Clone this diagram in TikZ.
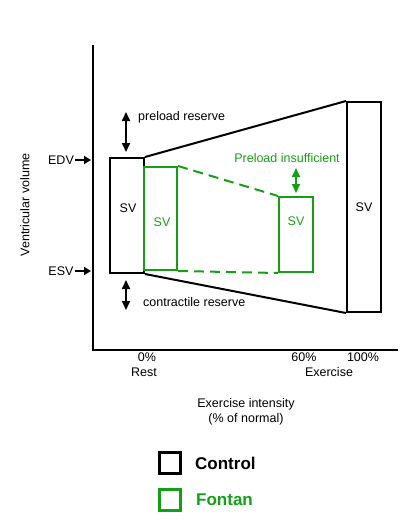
\documentclass[tikz,border=0pt]{standalone}
\usepackage{fontspec}
\setmainfont{Liberation Sans}
\usetikzlibrary{arrows.meta}
\definecolor{fontangreen}{RGB}{20,160,20}
\tikzset{
  lbl/.style={font=\fontsize{12.5}{15}\selectfont, inner sep=1pt},
  cbox/.style={draw=black, line width=2pt, inner sep=0pt},
  fbox/.style={draw=fontangreen, line width=2pt, inner sep=0pt},
  dbl/.style={{Triangle[length=9pt,width=8pt]}-{Triangle[length=9pt,width=8pt]}, line width=2pt},
}
\begin{document}
\begin{tikzpicture}[x=1pt, y=-1pt]
\useasboundingbox (0,0) rectangle (406,520);
% axes
\coordinate (ytop) at (93,45);
\coordinate (O) at (93,350);
\coordinate (xend) at (398,350);
\draw[line width=2pt] (ytop) -- (O) -- (xend);
\node[lbl, rotate=90] (vv) at (25,205) {Ventricular volume};
\node[lbl] (edv) at (61,160) {EDV};
\node[lbl] (esv) at (61,271) {ESV};
\draw[-{Triangle[length=7pt,width=8pt]}, line width=2pt] (edv.east) -- ([xshift=-2pt]edv.east -| O);
\draw[-{Triangle[length=7pt,width=8pt]}, line width=2pt] (esv.east) -- ([xshift=-2pt]esv.east -| O);
% control boxes
\node[cbox, minimum width=34pt, minimum height=115pt] (crest) at (127,215.5) {};
\node[cbox, minimum width=34pt, minimum height=210pt] (cex) at (364,207) {};
\draw[line width=2pt] (crest.north east) -- (cex.north west);
\draw[line width=2pt] (crest.south east) -- (cex.south west);
\node[lbl] at (128,208) {SV};
\node[lbl] at (364,207) {SV};
% fontan boxes
\node[fbox, minimum width=33pt, minimum height=103pt] (frest) at (160.5,218.5) {};
\node[fbox, minimum width=34pt, minimum height=75pt] (fsixty) at (296,234.5) {};
\draw[fontangreen, dash pattern=on 10pt off 6pt, line width=2pt] (frest.north east) -- (fsixty.north west);
\draw[fontangreen, dash pattern=on 10pt off 6pt, line width=2pt] (frest.south east) -- (fsixty.south west);
\node[lbl, text=fontangreen] at (162,222) {SV};
\node[lbl, text=fontangreen] at (296,221) {SV};
% reserves
\coordinate (pr1) at (126,112);
\coordinate (pr2) at (126,152);
\draw[dbl] (pr1) -- (pr2);
\node[lbl, anchor=west] (pres) at (137,117) {preload reserve};
\coordinate (cr1) at (126,280);
\coordinate (cr2) at (126,310);
\draw[dbl] (cr1) -- (cr2);
\node[lbl, anchor=west] (cres) at (142,302) {contractile reserve};
\node[lbl, text=fontangreen] (pins) at (287,158) {Preload insufficient};
\coordinate (pi1) at (296,168);
\coordinate (pi2) at (296,193);
\draw[dbl, fontangreen] (pi1) -- (pi2);
% x axis labels
\foreach \x/\t in {147/0\%, 304/60\%, 363/100\%} {
  \node[lbl] at (\x,357) {\t};
}
\node[lbl] (rest) at (144,372) {Rest};
\node[lbl] (exer) at (329,372) {Exercise};
\node[lbl, align=center] (xlab) at (246,412) {Exercise intensity\\(\% of normal)};
% legend
\node[draw=black, line width=3pt, minimum size=21pt, inner sep=0pt] (lc) at (169.5,462.5) {};
\node[font=\fontsize{17}{20}\selectfont\bfseries, anchor=west, inner sep=0pt] at (195,463) {Control};
\node[draw=fontangreen, line width=3pt, minimum size=21pt, inner sep=0pt] (lf) at (169.5,499.5) {};
\node[font=\fontsize{17}{20}\selectfont\bfseries, text=fontangreen, anchor=west, inner sep=0pt] at (196,500) {Fontan};
\end{tikzpicture}
\end{document}
